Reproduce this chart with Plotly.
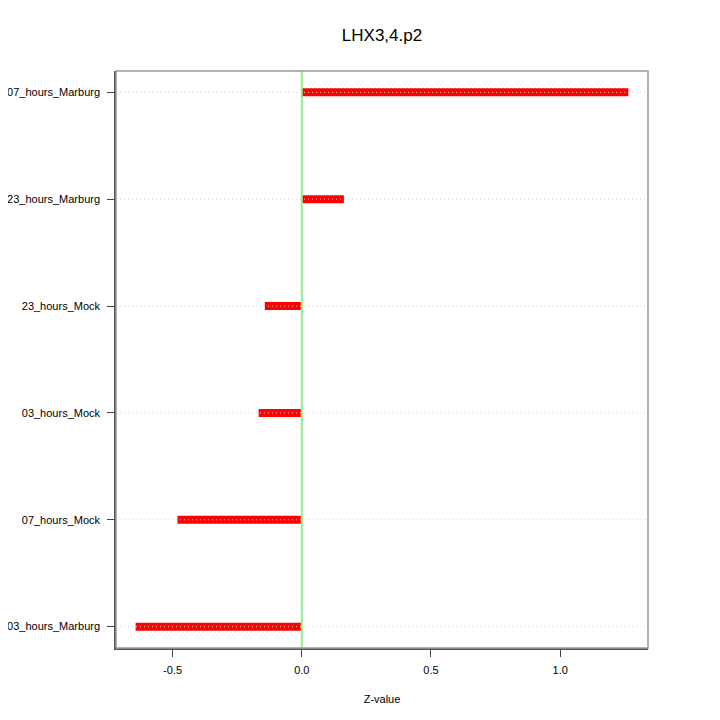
import plotly.graph_objects as go

categories = ["03_hours_Marburg", "07_hours_Mock", "03_hours_Mock",
              "23_hours_Mock", "23_hours_Marburg", "07_hours_Marburg"]
values = [-0.643, -0.481, -0.167, -0.143, 0.163, 1.264]
x_ticks = [-0.5, 0.0, 0.5, 1.0]
x_tick_labels = ["-0.5", "0.0", "0.5", "1.0"]
title_text = "LHX3,4.p2"
x_title = "Z-value"

fig = go.Figure()
for i, (c, v) in enumerate(zip(categories, values)):
    fig.add_trace(go.Scatter(
        x=[0, v], y=[i + 1, i + 1], mode="lines",
        line=dict(color="#ff0000", width=8),
        showlegend=False, hoverinfo="skip"))

for i in range(len(categories)):
    fig.add_shape(type="line", xref="paper", yref="y", x0=0, x1=1, y0=i + 1, y1=i + 1,
                  line=dict(color="#d3d3d3", width=1, dash="1px,3px"), layer="above")

fig.add_shape(type="line", xref="x", yref="paper", x0=0, x1=0, y0=0, y1=1,
              line=dict(color="#90ee90", width=2), layer="above")
fig.add_shape(type="rect", xref="paper", yref="paper", x0=0, x1=1, y0=0, y1=1,
              line=dict(color="#999999", width=1.5), layer="above")

# page body has an 8px default margin; compensate so the plot lands where the reference has it
off = 8
font = "Liberation Sans, Arial, sans-serif"
fig.update_layout(
    width=720, height=720,
    margin=dict(l=116 - off, r=72 + off, t=71 - off, b=72 + off, autoexpand=False),
    paper_bgcolor="white", plot_bgcolor="white",
    title=dict(text=title_text, x=(382 - off) / 720, xanchor="center",
               y=1 - (35 - off) / 720, yanchor="middle",
               font=dict(family=font, size=17, color="black")),
    font=dict(family=font, size=11, color="black"),
    xaxis=dict(range=[-0.719, 1.340], tickvals=x_ticks, ticktext=x_tick_labels,
               showgrid=False, zeroline=False, ticks="outside", ticklen=7,
               tickcolor="#444", showline=True, linecolor="#555", linewidth=1.5,
               automargin=False, ticklabelstandoff=4,
               title=dict(text=x_title, font=dict(size=11), standoff=20)),
    yaxis=dict(range=[0.8, 6.2], tickvals=list(range(1, len(categories) + 1)),
               ticktext=categories, showgrid=False,
               zeroline=False, ticks="outside", ticklen=7, tickcolor="#444",
               showline=True, linecolor="#555", linewidth=1.5,
               automargin=False, ticklabelstandoff=5),
)

fig.write_html("out.html")
